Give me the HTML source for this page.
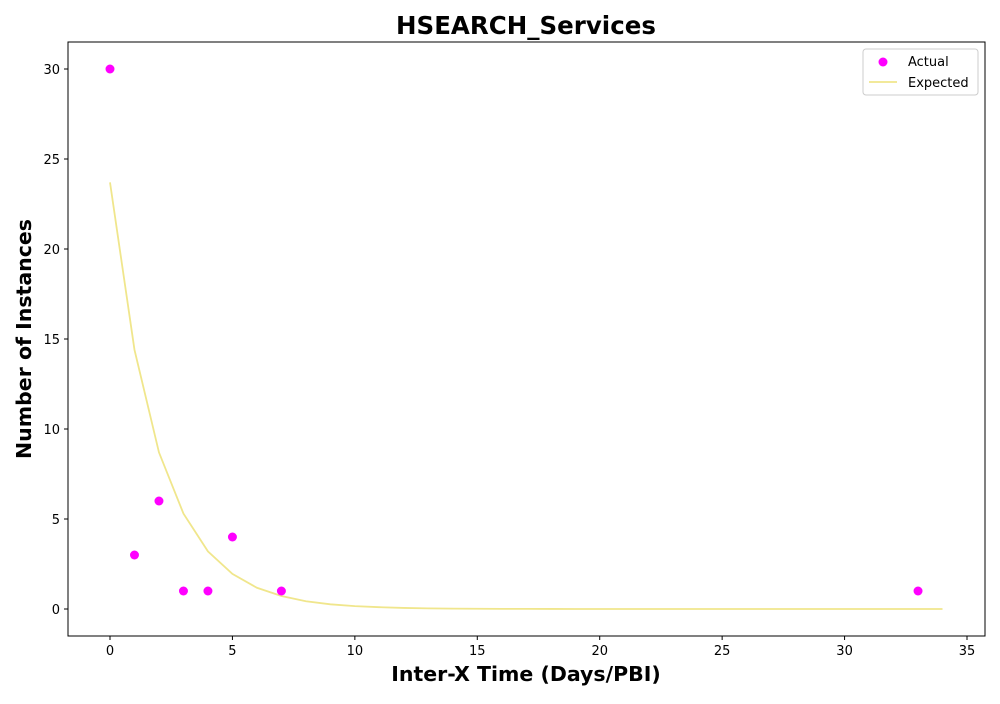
<!DOCTYPE html>
<html><head><meta charset="utf-8"><style>
body{margin:0;background:#fff;font-family:"DejaVu Sans","Liberation Sans",sans-serif}
svg text{font-family:"DejaVu Sans","Liberation Sans",sans-serif}
</style></head><body>
<svg id="chart" width="1000" height="700" xmlns="http://www.w3.org/2000/svg"></svg>
<script>
const actualX=[0,1,2,3,4,5,7,33];
const actualY=[30,3,6,1,1,4,1,1];
const expectedX=[0,1,2,3,4,5,6,7,8,9,10,11,12,13,14,15,16,17,18,19,20,21,22,23,24,25,26,27,28,29,30,31,32,33,34];
const expectedY=[23.7,14.4,8.7,5.3,3.2,1.95,1.18,0.72,0.43,0.26,0.16,0.1,0.06,0.035,0.02,0.013,0.008,0.005,0.003,0.002,0.001,0,0,0,0,0,0,0,0,0,0,0,0,0,0];
const xTicks=[0,5,10,15,20,25,30,35];
const yTicks=[0,5,10,15,20,25,30];
const svg=document.getElementById('chart');
const NS='http://www.w3.org/2000/svg';
const L=68,R=985,T=42,B=636;
const sx=v=>110+v*(967-110)/35;
const sy=v=>609-v*(609-69)/30;
function mk(tag,attrs,parent){const e=document.createElementNS(NS,tag);for(const k in attrs)e.setAttribute(k,attrs[k]);(parent||svg).appendChild(e);return e;}
const frame=mk('rect',{x:L,y:T,width:R-L,height:B-T,fill:'none',stroke:'#000','stroke-width':1});


xTicks.forEach(v=>{
 const g=mk('g',{});
 
 
 mk('line',{x1:sx(v),x2:sx(v),y1:B,y2:B+4,stroke:'#000'},g);
 const t=mk('text',{x:sx(v),y:B+19,'text-anchor':'middle','font-size':13},g);t.textContent=v;
});
yTicks.forEach(v=>{
 const g=mk('g',{});
 
 
 mk('line',{x1:L-4,x2:L,y1:sy(v),y2:sy(v),stroke:'#000'},g);
 const t=mk('text',{x:L-8,y:sy(v)+5,'text-anchor':'end','font-size':13},g);t.textContent=v;
});
const line=mk('polyline',{points:expectedX.map((x,i)=>sx(x)+','+sy(expectedY[i])).join(' '),fill:'none',stroke:'#f0e68c','stroke-width':1.8});


actualX.forEach((x,i)=>{
 const c=mk('circle',{cx:sx(x),cy:sy(actualY[i]),r:4.5,fill:'#ff00ff'});
 
 
});
const title=mk('text',{x:526,y:34,'text-anchor':'middle','font-size':24.5,'font-weight':'bold'});title.textContent='HSEARCH_Services';


const xl=mk('text',{x:526,y:681,'text-anchor':'middle','font-size':20.5,'font-weight':'bold'});xl.textContent='Inter-X Time (Days/PBI)';


const yl=mk('text',{x:31,y:339,'text-anchor':'middle','font-size':20.5,'font-weight':'bold',transform:'rotate(-90 31 339)'});yl.textContent='Number of Instances';


const lg=mk('g',{});


mk('rect',{x:863,y:49,width:115,height:46,rx:3,fill:'#fff',stroke:'#ccc'},lg);
mk('circle',{cx:883,cy:62,r:4.5,fill:'#ff00ff'},lg);
const t1=mk('text',{x:908,y:66,'font-size':13},lg);t1.textContent='Actual';
mk('line',{x1:869,x2:897,y1:82,y2:82,stroke:'#f0e68c','stroke-width':1.8},lg);
const t2=mk('text',{x:908,y:87,'font-size':13},lg);t2.textContent='Expected';
</script>
</body></html>
